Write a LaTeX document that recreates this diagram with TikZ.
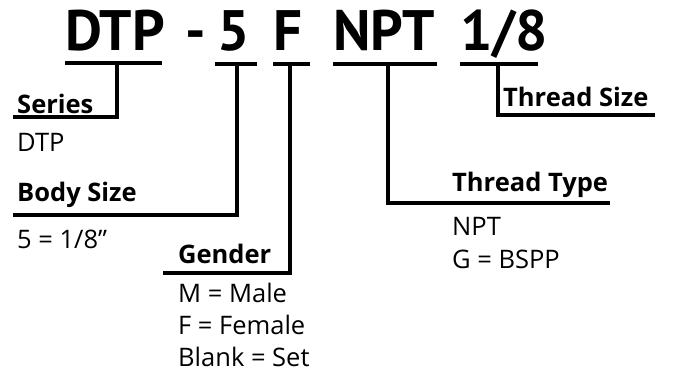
\documentclass[tikz,border=0pt]{standalone}
\usepackage{fontspec}
\setmainfont{PT Sans}
\newfontfamily\fieldfont{Open Sans}
\usetikzlibrary{positioning}

\newcommand{\titlesize}{\fontsize{57}{60}\selectfont\bfseries}
\newcommand{\fieldsize}{\fieldfont\fontsize{25.5}{32}\selectfont}

\begin{document}
\begin{tikzpicture}[x=1pt, y=-1pt,
                    partname/.style={font=\titlesize, anchor=base west, inner sep=0pt},
                    fieldname/.style={font=\fieldsize\bfseries, anchor=base west, inner sep=0pt},
                    fieldtext/.style={font=\fieldsize, anchor=base west, inner sep=0pt},
                    bar/.style={line width=4.5pt},]
    \useasboundingbox (0,0) rectangle (673,375);
    % code parts
    \node[partname]      (dtp)    at (65,50)     {DTP};
    \node[partname]      (dash)   at (185,50)    {-};
    \node[partname]      (five)   at (217,50)    {5};
    \node[partname]      (gen)    at (273,50)    {F};
    \node[partname]      (npt)    at (333,50)    {NPT};
    \node[partname]      (size)   at (460,50)    {1/8};
    % field names
    \node[fieldname]     (series) at (17,113)    {Series};
    \node[fieldname]     (body)   at (17,201)    {Body Size};
    \node[fieldname]     (gender) at (178,263)   {Gender};
    \node[fieldname]     (ttype)  at (452,191)   {Thread Type};
    \node[fieldname]     (tsize)  at (503,106)   {Thread Size};
    % field values
    \node[fieldtext]     (seriesv) at (17,151)   {DTP};
    \node[fieldtext]     (bodyv)   at (17,248)   {5 = 1/8”};
    \node[fieldtext]     (male)    at (178,302)  {M = Male};
    \node[fieldtext]     (female)  at (178,334)  {F = Female};
    \node[fieldtext]     (blank)   at (178,366)  {Blank = Set};
    \node[fieldtext]     (nptv)    at (452,235)  {NPT};
    \node[fieldtext]     (bspp)    at (452,268)  {G = BSPP};
    % bar ends
    \coordinate (dtpdrop)    at (117,63);
    \coordinate (fivedrop)   at (237,64);
    \coordinate (gendrop)    at (290,64);
    \coordinate (nptdrop)    at (388,64);
    \coordinate (sizedrop)   at (498,64);
    \coordinate (seriesend)  at (13,117);
    \coordinate (bodyend)    at (13,215);
    \coordinate (genderend)  at (163,273);
    \coordinate (ttypeend)   at (610,203);
    \coordinate (tsizeend)   at (655,115);
    % underlines
    \draw[bar] (65,63) -- (162,63);
    \draw[bar] (215,64) -- (257,64);
    \draw[bar] (273,64) -- (310,64);
    \draw[bar] (333,64) -- (437,64);
    \draw[bar] (460,64) -- (538,64);
    % lines
    \draw[bar] (dtpdrop) |- (seriesend);
    \draw[bar] (fivedrop) |- (bodyend);
    \draw[bar] (gendrop) |- (genderend);
    \draw[bar] (nptdrop) |- (ttypeend);
    \draw[bar] (sizedrop) |- (tsizeend);
\end{tikzpicture}
\end{document}
